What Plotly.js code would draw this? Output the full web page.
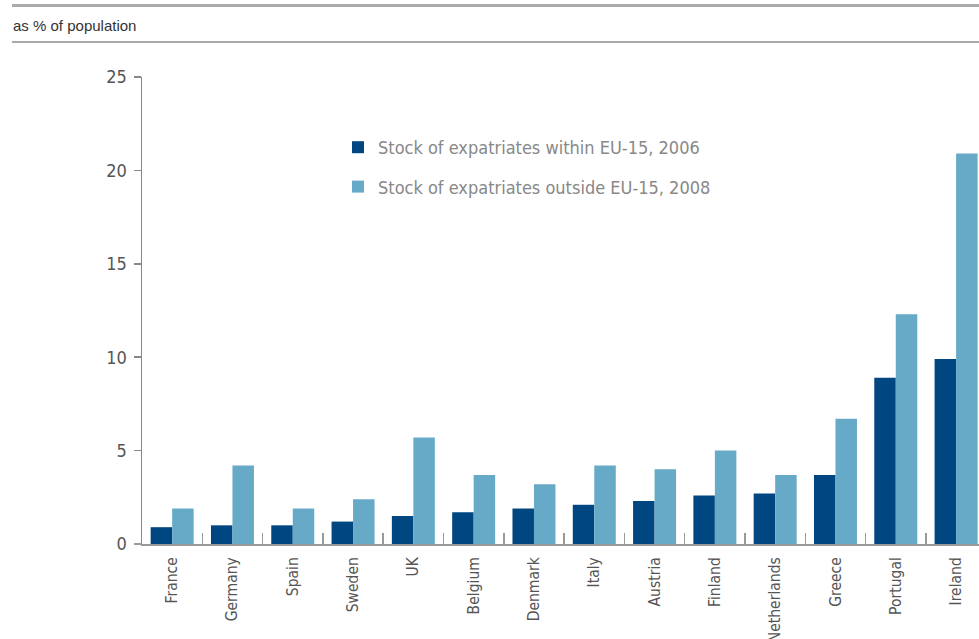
<!DOCTYPE html>
<html>
<head>
<meta charset="utf-8">
<script src="https://cdn.plot.ly/plotly-3.0.1.min.js"></script>
<style>html,body{margin:0;padding:0;background:#fff;}#chart{width:979px;height:639px;}</style>
</head>
<body>
<div id="chart"></div>
<script>
const countries = ["France","Germany","Spain","Sweden","UK","Belgium","Denmark","Italy","Austria","Finland","Netherlands","Greece","Portugal","Ireland"];
const withinEU15_2006 = [0.9,1.0,1.0,1.2,1.5,1.7,1.9,2.1,2.3,2.6,2.7,3.7,8.9,9.9];
const outsideEU15_2008 = [1.9,4.2,1.9,2.4,5.7,3.7,3.2,4.2,4.0,5.0,3.7,6.7,12.3,20.9];
const seriesNames = ["Stock of expatriates within EU-15, 2006","Stock of expatriates outside EU-15, 2008"];
const yTicks = [0,5,10,15,20,25];
const unitLabel = "as % of population";

const FONT = '"Liberation Sans Narrow","DejaVu Sans Condensed","Roboto",sans-serif';
const W = 979, H = 639, L = 142, R = 0, T = 77, B = 95;
const pw = W - L - R, ph = H - T - B;
const px = v => (v - L) / pw;
const py = v => (H - B - v) / ph;

const traces = [
  {type:'bar', x:countries, y:withinEU15_2006, name:seriesNames[0], legendgroup:'a',
   marker:{color:'#004680'}, hoverinfo:'x+y'},
  {type:'bar', x:countries, y:outsideEU15_2008, name:seriesNames[1], legendgroup:'b',
   marker:{color:'#67aac8'}, hoverinfo:'x+y'}
];

const layout = {
  width:W, height:H,
  margin:{l:L, r:R, t:T, b:B, pad:0},
  paper_bgcolor:'#fff', plot_bgcolor:'#fff',
  font:{family:FONT, color:'#555'},
  barmode:'group', bargap:0.287, bargroupgap:0,
  showlegend:true,
  legend:{x:px(338), y:py(129), xanchor:'left', yanchor:'top', traceorder:'grouped', tracegroupgap:13,
          font:{family:FONT, size:18, color:'#888'}, bgcolor:'rgba(0,0,0,0)'},
  xaxis:{type:'category', range:[-0.5, 13.38], tickson:'boundaries', ticks:'inside', ticklen:11,
         tickcolor:'#999', tickwidth:1.5, showline:true, linecolor:'#999', linewidth:2,
         tickangle:-90, tickfont:{family:FONT, size:15.5, color:'#555'}, ticklabelstandoff:5,
         showgrid:false, zeroline:false, fixedrange:true},
  yaxis:{range:[0,25], tickvals:yTicks, ticks:'outside', ticklen:7, tickcolor:'#888', tickwidth:1.5,
         showline:true, linecolor:'#888', linewidth:1.5, showgrid:false, zeroline:false,
         tickfont:{family:FONT, size:18, color:'#555'}, ticklabelstandoff:3, fixedrange:true},
  shapes:[
    {type:'line', xref:'paper', yref:'paper', x0:px(12), x1:1, y0:py(5.5), y1:py(5.5), line:{color:'#aaa', width:3}},
    {type:'line', xref:'paper', yref:'paper', x0:px(12), x1:1, y0:py(42), y1:py(42), line:{color:'#aaa', width:2}},
    {type:'line', xref:'paper', yref:'paper', x0:px(134), x1:0, y0:0, y1:0, line:{color:'#999', width:2}}
  ],
  annotations:[
    {text:unitLabel, xref:'paper', yref:'paper', x:px(11), y:py(25), xanchor:'left', yanchor:'middle',
     showarrow:false, font:{family:'"Liberation Sans","Noto Sans",sans-serif', size:15, color:'#333'}}
  ]
};

Plotly.newPlot('chart', traces, layout, {displayModeBar:false, staticPlot:true});
</script>
</body>
</html>
